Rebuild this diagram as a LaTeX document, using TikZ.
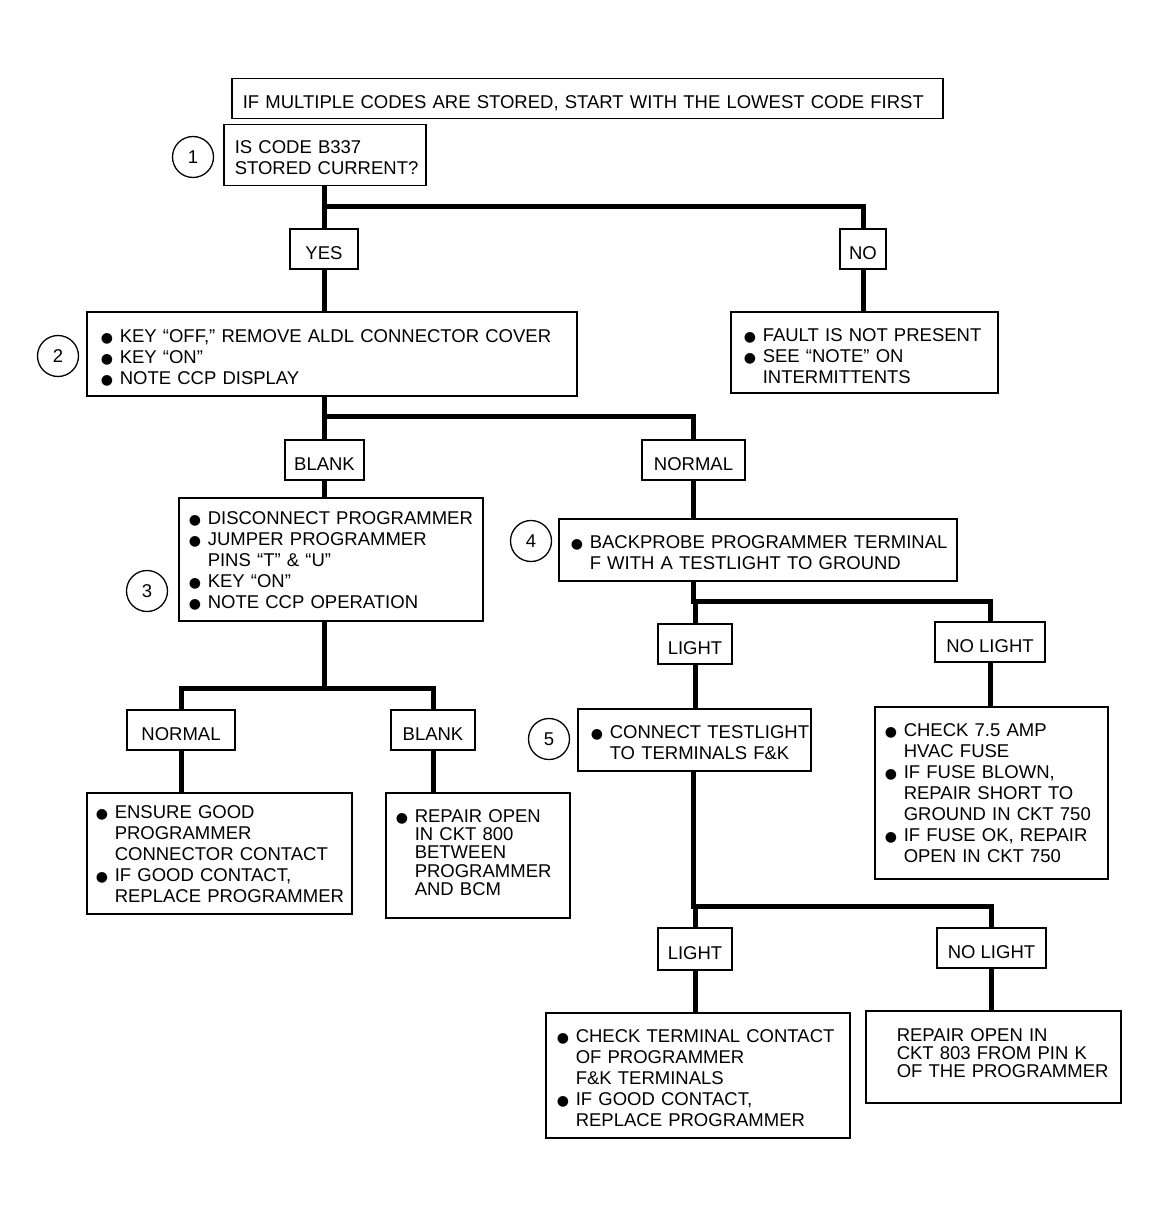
\documentclass[tikz,border=0pt]{standalone}
\usepackage{xcolor}
\usepackage{fontspec}
\setmainfont{Liberation Sans}
\newfontfamily\symfont{DejaVu Sans}
\usepackage{tikz}

\newcommand{\blt}{\makebox[19pt][l]{\fontsize{14}{14}\symfont ●}}
\newcommand{\hang}{\hspace*{19pt}}
\newcommand{\lines}[2][-5pt]{\raisebox{#1}[\height][\depth]{\begin{tabular}{@{}l@{}}#2\end{tabular}}}

\begin{document}
\begin{tikzpicture}[x=1pt,y=1pt,yscale=-1,xscale=1,
  every node/.style={font=\fontsize{18.5}{21}\selectfont},
  box/.style={draw,line width=1.5pt,anchor=north west,align=left,inner ysep=0pt},
  tag/.style={draw,line width=1.5pt,minimum height=40pt,inner sep=0pt,text height=22pt,text depth=0.8pt},
  num/.style={draw,circle,line width=1.3pt,minimum size=41pt,inner sep=0pt},
  link/.style={line width=5pt}]
\useasboundingbox (0,0) rectangle (1158,1214);

% Boxes
\node [box,minimum height=40pt,text width=689pt,inner xsep=11pt] (head) at (231,78) {\lines[-6pt]{IF MULTIPLE CODES ARE STORED, START WITH THE LOWEST CODE FIRST}};
\node [box,minimum height=61pt,text width=180pt,inner xsep=11pt] (q1) at (223,124) {\lines{IS CODE B337\\STORED CURRENT?}};
\node [box,minimum height=84pt,text width=462pt,inner xsep=14pt] (b2) at (86,311) {\lines[-6pt]{\blt KEY “OFF,” REMOVE ALDL CONNECTOR COVER\\\blt KEY “ON”\\\blt NOTE CCP DISPLAY}};
\node [box,minimum height=81pt,text width=241pt,inner xsep=13pt] (nofault) at (730,311) {\lines[-6pt]{\blt FAULT IS NOT PRESENT\\\blt SEE “NOTE” ON\\\hang INTERMITTENTS}};
\node [box,minimum height=123pt,text width=284pt,inner xsep=10pt] (b3) at (178,497) {\lines[-3pt]{\blt DISCONNECT PROGRAMMER\\\blt JUMPER PROGRAMMER\\\hang PINS “T” \& “U”\\\blt KEY “ON”\\\blt NOTE CCP OPERATION}};
\node [box,minimum height=62pt,text width=374pt,inner xsep=12pt] (b4) at (558,518) {\lines{\blt BACKPROBE PROGRAMMER TERMINAL\\\hang F WITH A TESTLIGHT TO GROUND}};
\node [box,minimum height=62pt,text width=207pt,inner xsep=13pt] (b5) at (577,708) {\lines{\blt CONNECT TESTLIGHT\\\hang TO TERMINALS F\&K}};
\node [box,minimum height=121pt,text width=247pt,inner xsep=9pt] (ensure) at (86,792) {\lines[-3pt]{\blt ENSURE GOOD\\\hang PROGRAMMER\\\hang CONNECTOR CONTACT\\\blt IF GOOD CONTACT,\\\hang REPLACE PROGRAMMER}};
\node [box,minimum height=125pt,text width=164pt,inner xsep=10pt,font=\fontsize{18.5}{17.75}\selectfont] (open800) at (385,792) {\lines[0pt]{\blt REPAIR OPEN\\\hang IN CKT 800\\\hang BETWEEN\\\hang PROGRAMMER\\\hang AND BCM}};
\node [box,minimum height=172pt,text width=213pt,inner xsep=10pt] (fuse) at (874,706) {\lines[-3pt]{\blt CHECK 7.5 AMP\\\hang HVAC FUSE\\\blt IF FUSE BLOWN,\\\hang REPAIR SHORT TO\\\hang GROUND IN CKT 750\\\blt IF FUSE OK, REPAIR\\\hang OPEN IN CKT 750}};
\node [box,minimum height=125pt,text width=282pt,inner xsep=11pt] (checkterm) at (545,1012) {\lines{\blt CHECK TERMINAL CONTACT\\\hang OF PROGRAMMER\\\hang F\&K TERMINALS\\\blt IF GOOD CONTACT,\\\hang REPLACE PROGRAMMER}};
\node [box,minimum height=92pt,text width=193pt,inner xsep=31pt,font=\fontsize{18.5}{17}\selectfont] (open803) at (865,1010) {\lines[-4pt]{REPAIR OPEN IN\\CKT 803 FROM PIN K\\OF THE PROGRAMMER\\[10pt]}};

% Tags
\node [tag,minimum width=68pt] (yes) at (324,249) {YES};
\node [tag,minimum width=46pt] (no) at (863,249) {NO};
\node [tag,minimum width=79pt] (blank1) at (324.5,460) {BLANK};
\node [tag,minimum width=103pt] (normal1) at (693.5,460) {NORMAL};
\node [tag,minimum width=108pt] (normal2) at (181,730) {NORMAL};
\node [tag,minimum width=84pt] (blank2) at (433,730) {BLANK};
\node [tag,minimum width=74pt] (light1) at (695,644) {LIGHT};
\node [tag,minimum width=110pt] (nolight1) at (990,642) {NO LIGHT};
\node [tag,minimum width=74pt,minimum height=42pt] (light2) at (695,949) {LIGHT};
\node [tag,minimum width=109pt] (nolight2) at (991.5,948) {NO LIGHT};

% Step numbers
\node [num] (n1) at (193,157) {1};
\node [num] (n2) at (58,356) {2};
\node [num] (n3) at (147,591) {3};
\node [num] (n4) at (531,541) {4};
\node [num] (n5) at (549,739) {5};

% Junctions
\coordinate (j1) at (324,207);
\coordinate (j2) at (324,416);
\coordinate (j3) at (324,688);
\coordinate (j4) at (693,601);
\coordinate (j5) at (693,906);

% Connectors
\draw [link] (yes.north |- q1.south) -- (yes.north);
\draw [link] (j1) -| (no.north);
\draw [link] (yes.south) -- (yes.south |- b2.north);
\draw [link] (no.south) -- (no.south |- nofault.north);
\draw [link] (blank1.north |- b2.south) -- (blank1.north);
\draw [link] (j2) -| (normal1.north);
\draw [link] (blank1.south) -- (blank1.south |- b3.north);
\draw [link] (j3 |- b3.south) -- (j3);
\draw [link] (normal2.north) |- (j3) -| (blank2.north);
\draw [link] (normal2.south) -- (normal2.south |- ensure.north);
\draw [link] (blank2.south) -- (blank2.south |- open800.north);
\draw [link] (normal1.south) -- (normal1.south |- b4.north);
\draw [link] (j4 |- b4.south) -- (j4) -| (nolight1.north);
\draw [link] (j4) -| (light1.north);
\draw [link] (light1.south) -- (light1.south |- b5.north);
\draw [link] (nolight1.south) -- (nolight1.south |- fuse.north);
\draw [link] (j5 |- b5.south) -- (j5) -| (nolight2.north);
\draw [link] (j5) -| (light2.north);
\draw [link] (light2.south) -- (light2.south |- checkterm.north);
\draw [link] (nolight2.south) -- (nolight2.south |- open803.north);

\end{tikzpicture}
\end{document}
